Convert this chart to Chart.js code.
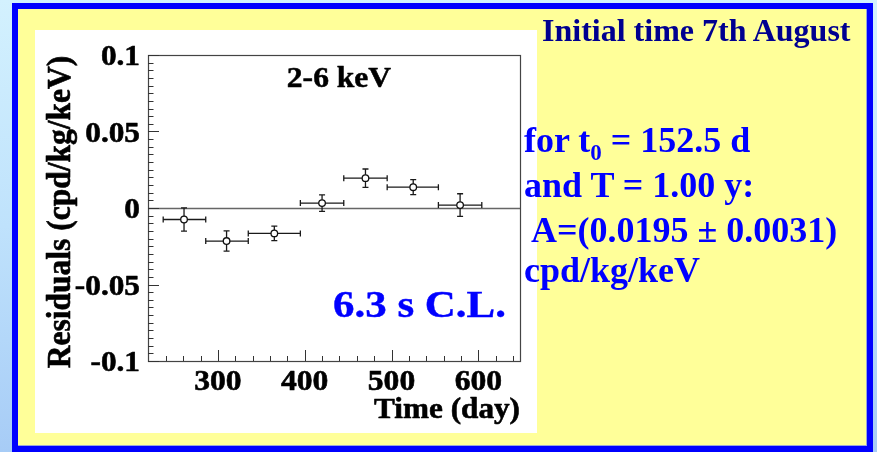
<!DOCTYPE html>
<html><head><meta charset="utf-8">
<script src="https://cdn.jsdelivr.net/npm/chart.js@4"></script>
<style>
html,body{margin:0;padding:0;width:877px;height:452px;overflow:hidden;}
body{position:relative;background:linear-gradient(180deg,#d3f1fe 0%,#bfe2fc 50%,#a7ccf6 100%);font-family:"Liberation Serif","Times New Roman",serif;}
#frame{position:absolute;left:12px;top:3px;width:849px;height:437px;border:6px solid #0000ff;background:#ffff99;box-shadow:inset -1px -1px 0 #9aa6d8;}
#panel{position:absolute;left:35px;top:30px;width:502px;height:403px;background:#ffffff;}
#c{position:absolute;left:0;top:0;width:877px;height:452px;}
.t{position:absolute;font-weight:bold;line-height:1;white-space:pre;}
.blue{color:#0000ff;font-size:36px;}
.sub{position:relative;top:8px;font-size:23px;}
</style>
</head><body>
<div id="frame"></div>
<div id="panel"></div>
<canvas id="c" width="877" height="452"></canvas>
<div class="t" style="left:542px;top:13.7px;font-size:32px;color:#000090;">Initial time 7th August</div>
<div class="t blue" style="left:524px;top:121.9px;">for t<span class="sub">0</span> = 152.5 d</div>
<div class="t blue" style="left:524px;top:166.9px;">and T = 1.00 y:</div>
<div class="t blue" style="left:524px;top:211.9px;"> A=(0.0195 ± 0.0031)</div>
<div class="t blue" style="left:524px;top:251.9px;">cpd/kg/keV</div>
<script>
// ---- data ----
const days        = [261, 310, 365, 420, 470, 525, 579];
const dayLow      = [237, 286, 335, 395, 445, 495, 554];
const dayHigh     = [286, 335, 395, 445, 495, 554, 604];
const residuals   = [-0.0075, -0.0216, -0.0166, 0.0032, 0.0195, 0.0136, 0.0019];
const residualErr = [0.0076, 0.0066, 0.0047, 0.0054, 0.0060, 0.0049, 0.0074];
const xTickValues = [300, 400, 500, 600];
const xTickLabels = ['300', '400', '500', '600'];
const yTickValues = [0.1, 0.05, 0, -0.05, -0.1];
const yTickLabels = ['0.1', '0.05', '0', '-0.05', '-0.1'];
const xTitle = 'Time (day)';
const yTitle = 'Residuals (cpd/kg/keV)';
const panelLabel = '2-6 keV';
const clLabel = '6.3 s C.L.';

const SERIF = '"Liberation Serif","Times New Roman",serif';

function txt(ctx, s, x, y, size, sx, align, base, color, rot, heavy) {
  ctx.save();
  ctx.translate(x, y);
  ctx.scale(sx, 1);
  if (rot) ctx.rotate(rot);
  ctx.font = 'bold ' + size + 'px ' + SERIF;
  ctx.textAlign = align;
  ctx.textBaseline = base;
  ctx.fillStyle = color;
  ctx.fillText(s, 0, 0);
  if (heavy) {
    ctx.strokeStyle = color;
    ctx.lineWidth = heavy;
    ctx.lineJoin = 'round';
    ctx.strokeText(s, 0, 0);
  }
  ctx.restore();
}

const rootStyle = {
  id: 'rootStyle',
  beforeDatasetsDraw(chart) {
    const {ctx, chartArea: a, scales: {x, y}} = chart;
    ctx.save();
    const y0 = Math.round(y.getPixelForValue(0)) + 0.5;
    ctx.strokeStyle = '#666';
    ctx.lineWidth = 1.3;
    ctx.beginPath(); ctx.moveTo(a.left, y0); ctx.lineTo(a.right, y0); ctx.stroke();
    ctx.strokeStyle = '#1a1a1a';
    ctx.lineWidth = 1.3;
    days.forEach((d, i) => {
      const px = x.getPixelForValue(d), py = y.getPixelForValue(residuals[i]);
      const xl = x.getPixelForValue(dayLow[i]), xh = x.getPixelForValue(dayHigh[i]);
      const yl = y.getPixelForValue(residuals[i] - residualErr[i]);
      const yh = y.getPixelForValue(residuals[i] + residualErr[i]);
      ctx.beginPath();
      ctx.moveTo(xl, py); ctx.lineTo(xh, py);
      ctx.moveTo(xl, py - 3); ctx.lineTo(xl, py + 3);
      ctx.moveTo(xh, py - 3); ctx.lineTo(xh, py + 3);
      ctx.moveTo(px, yl); ctx.lineTo(px, yh);
      ctx.moveTo(px - 3, yl); ctx.lineTo(px + 3, yl);
      ctx.moveTo(px - 3, yh); ctx.lineTo(px + 3, yh);
      ctx.stroke();
    });
    ctx.restore();
  },
  afterDraw(chart) {
    const {ctx, chartArea: a, scales: {x, y}} = chart;
    ctx.save();
    ctx.strokeStyle = '#444';
    ctx.lineWidth = 1.2;
    ctx.strokeRect(a.left + 0.5, a.top + 0.5, a.right - a.left, a.bottom - a.top);
    // tick marks (inside the frame)
    ctx.strokeStyle = '#333';
    ctx.lineWidth = 1;
    ctx.beginPath();
    for (let v = 240; v <= x.max; v += 20) {
      const px = Math.round(x.getPixelForValue(v)) + 0.5;
      const len = (v % 100 === 0) ? 11 : 5;
      ctx.moveTo(px, a.bottom); ctx.lineTo(px, a.bottom - len);
    }
    for (let k = -20; k <= 20; k++) {
      const py = Math.round(y.getPixelForValue(k * 0.005)) + 0.5;
      const len = (k % 10 === 0) ? 11 : 5.5;
      ctx.moveTo(a.left, py); ctx.lineTo(a.left + len, py);
    }
    ctx.stroke();
    ctx.restore();
    // tick labels
    yTickValues.forEach((v, i) => txt(ctx, yTickLabels[i], 140, y.getPixelForValue(v) + 10, 29.5, 1.06, 'right', 'alphabetic', '#000', 0, 0.6));
    xTickValues.forEach((v, i) => txt(ctx, xTickLabels[i], x.getPixelForValue(v), 390, 29.5, 1.07, 'center', 'alphabetic', '#000', 0, 0.6));
    txt(ctx, xTitle, 520, 418, 30, 1.04, 'right', 'alphabetic', '#000', 0, 0.6);
    txt(ctx, yTitle, 70, 212, 31.5, 1.04, 'center', 'alphabetic', '#000', -Math.PI / 2, 0.6);
    txt(ctx, panelLabel, 339, 86.7, 29.5, 1.07, 'center', 'alphabetic', '#000', 0, 0.5);
    txt(ctx, clLabel, 333, 316.7, 37, 1.16, 'left', 'alphabetic', '#0000ff', 0, 0.4);
  }
};

new Chart(document.getElementById('c'), {
  type: 'scatter',
  data: {
    datasets: [{
      data: days.map((d, i) => ({x: d, y: residuals[i]})),
      pointRadius: 3.3,
      pointHoverRadius: 3.3,
      pointBorderWidth: 1.3,
      pointBackgroundColor: '#ffffff',
      pointBorderColor: '#111111',
      showLine: false
    }]
  },
  options: {
    responsive: false,
    devicePixelRatio: 1,
    animation: false,
    events: [],
    layout: {padding: {left: 148, top: 55, right: 357, bottom: 91}},
    plugins: {legend: {display: false}, tooltip: {enabled: false}, title: {display: false}},
    scales: {
      x: {type: 'linear', min: 219.5, max: 648, display: false},
      y: {type: 'linear', min: -0.1, max: 0.1, display: false}
    }
  },
  plugins: [rootStyle]
});
</script>
</body></html>
